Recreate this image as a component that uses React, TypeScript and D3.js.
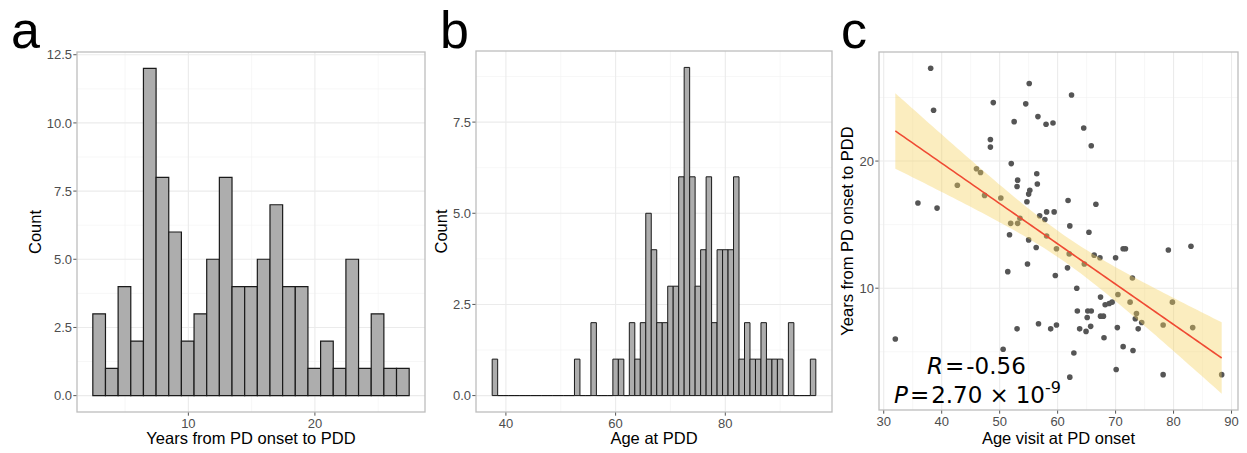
import React, { useEffect, useRef } from 'react';
import * as d3 from 'd3';

// panel a: years from PD onset to PDD, binwidth 1
const yearsBinStart = 2.45;
const yearsCounts = [3, 1, 4, 2, 12, 8, 6, 2, 3, 5, 8, 4, 4, 5, 7, 4, 4, 1, 2, 1, 5, 1, 3, 1, 1];

// panel b: age at PDD, binwidth 1
const ageBinStart = 37.5;
const ageCounts = [
  1, 0, 0, 0, 0, 0, 0, 0, 0, 0, 0, 0, 0, 0, 0, 1, 0, 0, 2, 0,
  0, 0, 1, 1, 0, 2, 1, 2, 5, 4, 2, 2, 3, 3, 6, 9, 6, 3, 4, 6,
  2, 4, 4, 4, 6, 1, 2, 1, 1, 2, 1, 1, 1, 0, 2, 0, 0, 0, 1,
];

// panel c: age at PD onset vs years to PDD
const onsetAge = [
  38.1, 55.1, 62.4, 38.6, 48.9, 54.5, 52.5, 56.6, 58.0, 59.2,
  64.5, 48.4, 48.4, 65.8, 52.0, 46.0, 46.7, 42.7, 53.1, 53.0,
  56.4, 56.5, 55.2, 55.0, 47.4, 50.2, 35.9, 39.2, 54.7, 61.8,
  66.6, 56.9, 57.8, 58.1, 59.4, 51.9, 53.1, 53.5, 62.1, 58.1,
  65.4, 51.7, 55.0, 56.3, 59.8, 62.0, 66.3, 67.3, 70.0, 71.3,
  71.7, 79.1, 83.0, 54.8, 61.7, 64.6, 51.4, 59.6, 72.9, 63.3,
  70.4, 67.4, 68.2, 68.9, 69.4, 72.5, 79.8, 63.4, 65.1, 65.2,
  65.8, 67.4, 67.9, 73.6, 73.4, 74.5, 56.7, 59.8, 78.2, 65.7,
  70.3, 83.3, 53.0, 58.8, 63.8, 64.9, 73.9, 68.0, 32.0, 50.6,
  71.3, 73.0, 62.8, 70.1, 78.2, 62.1, 88.3,
];
const yearsToPdd = [
  27.3, 26.1, 25.2, 24.0, 24.6, 24.5, 23.1, 23.5, 22.9, 23.0,
  22.6, 21.7, 21.1, 21.2, 19.8, 19.4, 19.1, 18.1, 18.5, 18.0,
  19.0, 18.2, 17.7, 17.4, 17.3, 17.1, 16.7, 16.3, 16.8, 16.9,
  16.6, 15.7, 15.4, 16.0, 16.0, 15.1, 15.1, 15.5, 14.9, 14.1,
  14.4, 14.2, 13.8, 13.2, 13.1, 12.7, 12.6, 12.4, 12.4, 13.1,
  13.1, 13.0, 13.3, 11.9, 11.6, 11.9, 11.3, 11.0, 10.8, 10.0,
  9.5, 9.3, 8.7, 8.8, 8.9, 8.9, 8.9, 8.2, 7.7, 8.2,
  8.2, 7.8, 7.8, 8.0, 7.6, 7.3, 7.2, 7.1, 7.1, 7.0,
  6.9, 6.9, 6.8, 6.8, 6.8, 6.6, 6.8, 6.1, 6.0, 5.2,
  5.4, 5.1, 4.9, 3.6, 3.2, 3.0, 3.2,
];

const countTicks = [0, 2.5, 5, 7.5, 10, 12.5];
const countMinor = [1.25, 3.75, 6.25, 8.75, 11.25];
const yearsTicks = [10, 20];
const yearsMinor = [5, 15, 25];
const ageTicks = [40, 60, 80];
const ageMinor = [50, 70, 90];
const onsetTicks = [30, 40, 50, 60, 70, 80, 90];
const onsetMinor = [35, 45, 55, 65, 75, 85];
const pddTicks = [10, 20];
const pddMinor = [5, 15, 25];

const W = 1247;
const H = 453;
const FONT = '"Liberation Sans", Arial, sans-serif';

type Box = { left: number; right: number; top: number; bottom: number };

const expand = (lo: number, hi: number) => {
  const pad = (hi - lo) * 0.05;
  return [lo - pad, hi + pad];
};

function drawFrame(
  svg: any,
  box: Box,
  x: any,
  y: any,
  xMajor: number[],
  xMinor: number[],
  yMajor: number[],
  yMinor: number[],
  yFmt: (v: number) => string,
  xTitle: string,
  yTitle: string,
  yTitleOffset: number,
  letter: string,
  letterX: number,
) {
  const g = svg.append('g');
  g.append('rect')
    .attr('x', box.left).attr('y', box.top)
    .attr('width', box.right - box.left).attr('height', box.bottom - box.top)
    .attr('fill', '#fff');

  const inX = (v: number) => x(v) >= box.left && x(v) <= box.right;
  const inY = (v: number) => y(v) >= box.top && y(v) <= box.bottom;

  // minor grid
  g.selectAll(null).data(xMinor.filter(inX)).enter().append('line')
    .attr('x1', (d: number) => x(d)).attr('x2', (d: number) => x(d))
    .attr('y1', box.top).attr('y2', box.bottom)
    .attr('stroke', '#f2f2f2').attr('stroke-width', 0.6);
  g.selectAll(null).data(yMinor.filter(inY)).enter().append('line')
    .attr('y1', (d: number) => y(d)).attr('y2', (d: number) => y(d))
    .attr('x1', box.left).attr('x2', box.right)
    .attr('stroke', '#f2f2f2').attr('stroke-width', 0.6);
  // major grid
  g.selectAll(null).data(xMajor.filter(inX)).enter().append('line')
    .attr('x1', (d: number) => x(d)).attr('x2', (d: number) => x(d))
    .attr('y1', box.top).attr('y2', box.bottom)
    .attr('stroke', '#ebebeb').attr('stroke-width', 1.1);
  g.selectAll(null).data(yMajor.filter(inY)).enter().append('line')
    .attr('y1', (d: number) => y(d)).attr('y2', (d: number) => y(d))
    .attr('x1', box.left).attr('x2', box.right)
    .attr('stroke', '#ebebeb').attr('stroke-width', 1.1);

  // axes (ticks + labels)
  const ax = svg.append('g').attr('font-family', FONT);
  ax.selectAll(null).data(xMajor.filter(inX)).enter().append('line')
    .attr('x1', (d: number) => x(d)).attr('x2', (d: number) => x(d))
    .attr('y1', box.bottom).attr('y2', box.bottom + 3.7)
    .attr('stroke', '#555').attr('stroke-width', 1);
  ax.selectAll(null).data(xMajor.filter(inX)).enter().append('text')
    .attr('x', (d: number) => x(d)).attr('y', box.bottom + 15.5)
    .attr('text-anchor', 'middle').attr('font-size', 13).attr('fill', '#4d4d4d')
    .text((d: number) => String(d));
  ax.selectAll(null).data(yMajor.filter(inY)).enter().append('line')
    .attr('y1', (d: number) => y(d)).attr('y2', (d: number) => y(d))
    .attr('x1', box.left - 3.7).attr('x2', box.left)
    .attr('stroke', '#555').attr('stroke-width', 1);
  ax.selectAll(null).data(yMajor.filter(inY)).enter().append('text')
    .attr('x', box.left - 5).attr('y', (d: number) => y(d)).attr('dy', '0.36em')
    .attr('text-anchor', 'end').attr('font-size', 13).attr('fill', '#4d4d4d')
    .text(yFmt);

  ax.append('text')
    .attr('x', (box.left + box.right) / 2).attr('y', 444)
    .attr('text-anchor', 'middle').attr('font-size', 16.5).attr('fill', '#000')
    .text(xTitle);
  ax.append('text')
    .attr('transform', `translate(${box.left - yTitleOffset},${(box.top + box.bottom) / 2}) rotate(-90)`)
    .attr('dy', '0.36em')
    .attr('text-anchor', 'middle').attr('font-size', 16.5).attr('fill', '#000')
    .text(yTitle);

  svg.append('text')
    .attr('x', letterX).attr('y', 48)
    .attr('font-family', FONT).attr('font-size', 52).attr('fill', '#000')
    .text(letter);
}

function drawBorder(svg: any, box: Box) {
  svg.append('rect')
    .attr('x', box.left).attr('y', box.top)
    .attr('width', box.right - box.left).attr('height', box.bottom - box.top)
    .attr('fill', 'none').attr('stroke', '#bdbdbd').attr('stroke-width', 1.3);
}

// bars as closed paths so empty bins still show their outline at 0
function drawHist(svg: any, start: number, counts: number[], x: any, y: any, sw: number) {
  svg.append('g').selectAll('path').data(counts).enter().append('path')
    .attr('d', (d: number, i: number) => {
      const x0 = x(start + i);
      const x1 = x(start + i + 1);
      return `M${x0},${y(0)}V${y(d)}H${x1}V${y(0)}Z`;
    })
    .attr('fill', '#adadad')
    .attr('stroke', '#1a1a1a')
    .attr('stroke-width', sw);
}

const App = () => {
  const svgRef = useRef<SVGSVGElement>(null);

  useEffect(() => {
    const svg = d3.select(svgRef.current);
    svg.selectAll('*').remove();
    svg.append('rect').attr('width', W).attr('height', H).attr('fill', '#fff');

    const fmt1 = d3.format('.1f');

    // ---- panel a
    const boxA: Box = { left: 77, right: 425, top: 52, bottom: 412 };
    const xA = d3.scaleLinear()
      .domain(expand(yearsBinStart, yearsBinStart + yearsCounts.length))
      .range([boxA.left, boxA.right]);
    const yA = d3.scaleLinear()
      .domain(expand(0, d3.max(yearsCounts) as number))
      .range([boxA.bottom, boxA.top]);
    drawFrame(svg, boxA, xA, yA, yearsTicks, yearsMinor, countTicks, countMinor, fmt1,
      'Years from PD onset to PDD', 'Count', 42, 'a', 11);
    drawHist(svg, yearsBinStart, yearsCounts, xA, yA, 1.2);
    drawBorder(svg, boxA);

    // ---- panel b
    const boxB: Box = { left: 476, right: 832, top: 51, bottom: 412 };
    const xB = d3.scaleLinear()
      .domain(expand(ageBinStart, ageBinStart + ageCounts.length))
      .range([boxB.left, boxB.right]);
    const yB = d3.scaleLinear()
      .domain(expand(0, d3.max(ageCounts) as number))
      .range([boxB.bottom, boxB.top]);
    drawFrame(svg, boxB, xB, yB, ageTicks, ageMinor, countTicks, countMinor, fmt1,
      'Age at PDD', 'Count', 35, 'b', 440);
    drawHist(svg, ageBinStart, ageCounts, xB, yB, 1);
    drawBorder(svg, boxB);

    // ---- panel c: linear fit with 95% CI
    const n = onsetAge.length;
    const xbar = d3.mean(onsetAge) as number;
    const ybar = d3.mean(yearsToPdd) as number;
    const sxx = d3.sum(onsetAge, v => (v - xbar) ** 2);
    const sxy = d3.sum(onsetAge.map((v, i) => (v - xbar) * (yearsToPdd[i] - ybar)));
    const slope = sxy / sxx;
    const intercept = ybar - slope * xbar;
    const sse = d3.sum(onsetAge.map((v, i) => (yearsToPdd[i] - (intercept + slope * v)) ** 2));
    const s = Math.sqrt(sse / (n - 2));
    const tq = 1.985;
    const [xmin, xmax] = d3.extent(onsetAge) as [number, number];
    const fit = d3.range(80).map(i => {
      const xv = xmin + (i * (xmax - xmin)) / 79;
      const yh = intercept + slope * xv;
      const se = s * Math.sqrt(1 / n + (xv - xbar) ** 2 / sxx);
      return { x: xv, y: yh, lo: yh - tq * se, hi: yh + tq * se };
    });

    const boxC: Box = { left: 879, right: 1238, top: 52, bottom: 410 };
    const xC = d3.scaleLinear().domain(expand(xmin, xmax)).range([boxC.left, boxC.right]);
    const yLo = Math.min(d3.min(yearsToPdd) as number, d3.min(fit, d => d.lo) as number);
    const yHi = Math.max(d3.max(yearsToPdd) as number, d3.max(fit, d => d.hi) as number);
    const yC = d3.scaleLinear().domain(expand(yLo, yHi)).range([boxC.bottom, boxC.top]);
    drawFrame(svg, boxC, xC, yC, onsetTicks, onsetMinor, pddTicks, pddMinor, d => String(d),
      'Age visit at PD onset', 'Years from PD onset to PDD', 32, 'c', 841);

    svg.append('g').selectAll('circle').data(onsetAge).enter().append('circle')
      .attr('cx', d => xC(d))
      .attr('cy', (_, i) => yC(yearsToPdd[i]))
      .attr('r', 2.8)
      .attr('fill', '#555');

    const area = d3.area<any>().x(d => xC(d.x)).y0(d => yC(d.lo)).y1(d => yC(d.hi));
    svg.append('path').datum(fit)
      .attr('d', area)
      .attr('fill', '#f4d35e').attr('fill-opacity', 0.4);
    const line = d3.line<any>().x(d => xC(d.x)).y(d => yC(d.y));
    svg.append('path').datum(fit)
      .attr('d', line)
      .attr('fill', 'none').attr('stroke', '#ef4a33').attr('stroke-width', 1.6);
    drawBorder(svg, boxC);

    // annotation
    const ann = svg.append('g').attr('font-family', '"DejaVu Sans", sans-serif')
      .attr('font-size', 23).attr('fill', '#000');
    const r = ann.append('text').attr('x', 927).attr('y', 374);
    r.append('tspan').attr('font-style', 'italic').text('R');
    r.append('tspan').attr('dx', 2).text('=');
    r.append('tspan').attr('dx', 2).text('-0.56');
    const p = ann.append('text').attr('x', 894).attr('y', 403);
    p.append('tspan').attr('font-style', 'italic').text('P');
    p.append('tspan').attr('dx', 2).text('=');
    p.append('tspan').attr('dx', 2).text('2.70');
    p.append('tspan').attr('dx', 7).text('×');
    p.append('tspan').attr('dx', 7).text('10');
    p.append('tspan').attr('dy', -10).attr('font-size', 16).text('-9');
  }, []);

  return (
    <svg
      ref={svgRef}
      width={W}
      height={H}
      style={{ position: 'fixed', left: 0, top: 0, display: 'block' }}
    />
  );
};

export default App;
